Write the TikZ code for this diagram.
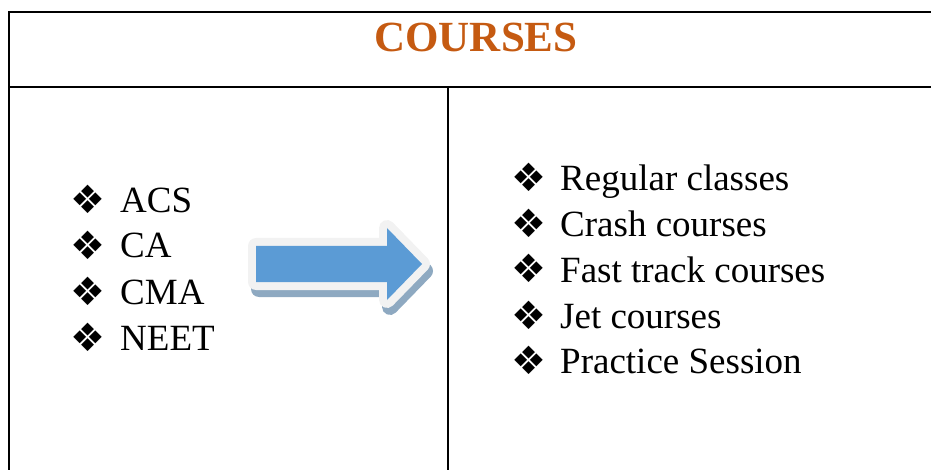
\documentclass[tikz,border=0pt]{standalone}
\usepackage{fontspec}
\setmainfont{Liberation Serif}
\newfontfamily\symfont{DejaVu Sans}
\definecolor{titleorange}{HTML}{C55A11}
\definecolor{arrowblue}{HTML}{5B9BD5}
\definecolor{arrowrim}{HTML}{F2F2F2}
\definecolor{arrowshadow}{HTML}{8EA9C1}
\begin{document}
\begin{tikzpicture}[x=1pt,y=-1pt,
  item/.style={anchor=base west, inner sep=0pt, font=\fontsize{37}{37}\selectfont},
  bul/.style={anchor=base west, inner sep=0pt, font=\symfont\fontsize{39}{39}\selectfont},
  rulethick/.style={line width=2pt, line cap=rect},
  rulethin/.style={line width=1.6pt},
  arrowfill/.style={fill=arrowblue},
  arrowedge/.style={draw=arrowrim, fill=arrowrim, line width=16pt, line join=round},
  arrowshade/.style={draw=arrowshadow, fill=arrowshadow, line width=16pt, line join=round}]
\useasboundingbox (0,0) rectangle (931,470);
% table rules
\draw[rulethick] (9,470) -- (9,12) -- (935,12);
\draw[rulethick] (9,87) -- (935,87);
\draw[rulethin] (448,87) -- (448,472);
% title
\node[anchor=base, inner sep=0pt, text=titleorange, font=\bfseries\fontsize{43}{43}\selectfont] (title) at (476,52) {COURSES};
% left list
\node[bul] (b1) at (70,214) {❖};
\node[item] (l1) at (120,213) {ACS};
\node[bul] (b2) at (70,259) {❖};
\node[item] (l2) at (120,258) {CA};
\node[bul] (b3) at (70,305) {❖};
\node[item] (l3) at (120,304) {CMA};
\node[bul] (b4) at (70,351) {❖};
\node[item] (l4) at (120,350) {NEET};
% right list
\node[bul] (r1b) at (511,192) {❖};
\node[item] (r1) at (560,191) {Regular classes};
\node[bul] (r2b) at (511,238) {❖};
\node[item] (r2) at (560,237) {Crash courses};
\node[bul] (r3b) at (511,283) {❖};
\node[item] (r3) at (560,282) {Fast track courses};
\node[bul] (r4b) at (511,329) {❖};
\node[item] (r4) at (560,328) {Jet courses};
\node[bul] (r5b) at (511,374) {❖};
\node[item] (r5) at (560,373) {Practice Session};
% arrow
\path[arrowshade, shift={(3,7)}] (256,246) -- (387,246) -- (387,228) -- (422,264) -- (387,300) -- (387,282) -- (256,282) -- cycle;
\path[arrowedge] (256,246) -- (387,246) -- (387,228) -- (422,264) -- (387,300) -- (387,282) -- (256,282) -- cycle;
\path[arrowfill] (256,246) -- (387,246) -- (387,228) -- (422,264) -- (387,300) -- (387,282) -- (256,282) -- cycle;
\end{tikzpicture}
\end{document}
